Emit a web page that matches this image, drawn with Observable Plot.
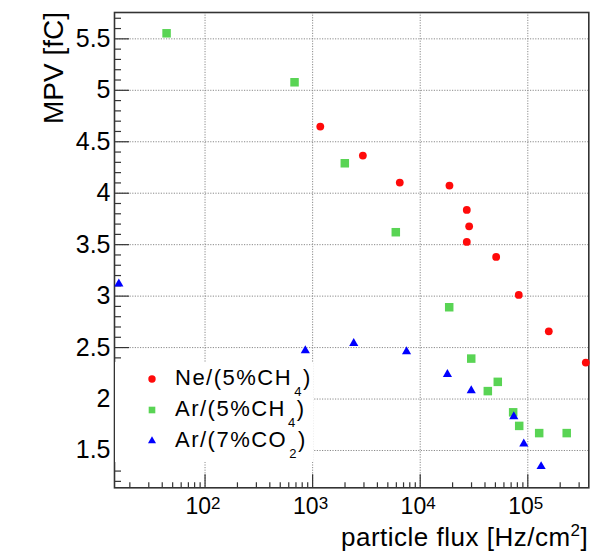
<!DOCTYPE html>
<html>
<head>
<meta charset="utf-8">
<script src="https://cdn.jsdelivr.net/npm/d3@7"></script>
<script src="https://cdn.jsdelivr.net/npm/@observablehq/plot@0.6"></script>
<style>
  html, body { margin: 0; padding: 0; background: #fff; }
  svg { display: block; }
</style>
</head>
<body>
<div id="chart"></div>
<script>
// Most probable value of the collected charge vs particle flux, per gas mixture
const seriesNames = ["Ne/(5%CH4)", "Ar/(5%CH4)", "Ar/(7%CO2)"];

const neFlux = [1178, 2931, 6457, 18700, 27100, 28500, 27100, 50800, 82400, 156700, 346000];
const neMpv  = [4.648, 4.366, 4.103, 4.074, 3.838, 3.678, 3.527, 3.381, 3.012, 2.658, 2.354];

const arCh4Flux = [43.9, 679, 1991, 5930, 18600, 29800, 52600, 42500, 73100, 83200, 127600, 230000];
const arCh4Mpv  = [5.554, 5.078, 4.291, 3.621, 2.892, 2.393, 2.167, 2.077, 1.871, 1.739, 1.669, 1.669];

const arCo2Flux = [15.8, 855, 2410, 7460, 17900, 29800, 74100, 91800, 133000];
const arCo2Mpv  = [3.119, 2.471, 2.542, 2.461, 2.240, 2.082, 1.829, 1.564, 1.345];

// axis ticks
const xMajor = [1e2, 1e3, 1e4, 1e5];
const xExponents = ["2", "3", "4", "5"];
const yMajor = [1.5, 2, 2.5, 3, 3.5, 4, 4.5, 5, 5.5];
const yLabels = ["1.5", "2", "2.5", "3", "3.5", "4", "4.5", "5", "5.5"];

const xDomain = [14.4, 369000];
const yDomain = [1.1375, 5.756];

const xMinor = [];
for (const decade of [10, 100, 1000, 10000, 100000]) {
  for (let m = 2; m <= 9; m++) {
    const v = m * decade;
    if (v > xDomain[0] && v < xDomain[1]) xMinor.push(v);
  }
}
const yMinor = d3.range(12, 58)
  .filter(k => k % 5 !== 0)
  .map(k => k / 10)
  .filter(v => v > yDomain[0] && v < yDomain[1]);

const colors = { ne: "#ff0a0a", arCh4: "#59d454", arCo2: "#0000ff" };

const toRows = (xs, ys) => xs.map((x, i) => ({ flux: x, mpv: ys[i] }));
const ne = toRows(neFlux, neMpv);
const arCh4 = toRows(arCh4Flux, arCh4Mpv);
const arCo2 = toRows(arCo2Flux, arCo2Mpv);

const font = "'Liberation Sans', Arial, Helvetica, sans-serif";
const axisInk = "#333";

const W = 609, H = 560;
const margin = { left: 114, right: 20.7, top: 12, bottom: 72.7 };
const innerW = W - margin.left - margin.right;
const innerH = H - margin.top - margin.bottom;

// ticks point inward from the bottom and left frame edges
const tickX = (values, len) => Plot.ruleX(values, { x: d => d, insetTop: innerH - len, stroke: axisInk, strokeWidth: 1.2 });
const tickY = (values, len) => Plot.ruleY(values, { y: d => d, insetRight: innerW - len, stroke: axisInk, strokeWidth: 1.2 });

const chart = Plot.plot({
  width: W,
  height: H,
  marginLeft: margin.left,
  marginRight: margin.right,
  marginTop: margin.top,
  marginBottom: margin.bottom,
  style: { fontFamily: font, background: "#fff" },
  x: { type: "log", domain: xDomain, axis: null },
  y: { domain: yDomain, axis: null },
  marks: [
    // dotted grid at the major ticks
    Plot.gridX(xMajor, { stroke: "#8a8a8a", strokeOpacity: 1, strokeWidth: 1, strokeDasharray: "1.2,1.4" }),
    Plot.gridY(yMajor, { stroke: "#8a8a8a", strokeOpacity: 1, strokeWidth: 1, strokeDasharray: "1.2,1.4" }),

    tickX(xMajor, 13),
    tickX(xMinor, 5),
    tickY(yMajor, 15),
    tickY(yMinor, 7),

    // y tick labels
    Plot.text(yMajor, {
      y: d => d, frameAnchor: "left", text: (d, i) => yLabels[i],
      textAnchor: "end", dx: -4, fontSize: 25, fill: "#000"
    }),
    // x tick labels: 10 with a raised exponent
    Plot.text(xMajor, {
      x: d => d, frameAnchor: "bottom", text: () => "10",
      textAnchor: "end", dx: 6, dy: 26, fontSize: 23, fill: "#000"
    }),
    Plot.text(xMajor, {
      x: d => d, frameAnchor: "bottom", text: (d, i) => xExponents[i],
      textAnchor: "start", dx: 6, dy: 21, fontSize: 17, fill: "#000"
    }),

    Plot.frame({ stroke: axisInk, strokeWidth: 1.6 }),

    // data
    Plot.dot(arCh4, { x: "flux", y: "mpv", symbol: "square", r: 4.8, fill: colors.arCh4, stroke: "none" }),
    Plot.dot(ne, { x: "flux", y: "mpv", symbol: "circle", r: 3.9, fill: colors.ne, stroke: "none" }),
    Plot.dot(arCo2, { x: "flux", y: "mpv", symbol: "triangle", r: 3.4, fill: colors.arCo2, stroke: "none" })
  ]
});

const svg = d3.select(chart);

// axis titles
const xTitle = svg.append("text")
  .attr("x", 588.3).attr("y", 546)
  .attr("text-anchor", "end")
  .attr("font-family", font).attr("font-size", 26)
  .attr("letter-spacing", 0.5)
  .attr("fill", "#000");
xTitle.append("tspan").text("particle flux [Hz/cm");
xTitle.append("tspan").attr("font-size", 17).attr("dy", -10).text("2");
xTitle.append("tspan").attr("dy", 10).text("]");

svg.append("text")
  .attr("transform", "translate(63.3,12) rotate(-90)")
  .attr("text-anchor", "end")
  .attr("font-family", font).attr("font-size", 28)
  .attr("fill", "#000")
  .text("MPV [fC]");

// legend
const legend = svg.append("g");
legend.append("rect")
  .attr("x", 115).attr("y", 362).attr("width", 198).attr("height", 100)
  .attr("fill", "#fff");

const legendItems = [
  { label: "Ne/(5%CH", sub: "4", color: colors.ne, symbol: d3.symbolCircle, size: Math.PI * 3.7 * 3.7 },
  { label: "Ar/(5%CH", sub: "4", color: colors.arCh4, symbol: d3.symbolSquare, size: 44 },
  { label: "Ar/(7%CO", sub: "2", color: colors.arCo2, symbol: d3.symbolTriangle, size: 28 }
];
legendItems.forEach((item, i) => {
  const baseline = 385 + i * 31;
  legend.append("path")
    .attr("transform", `translate(152,${baseline - 6})`)
    .attr("d", d3.symbol(item.symbol, item.size)())
    .attr("fill", item.color);
  const t = legend.append("text")
    .attr("x", 175).attr("y", baseline)
    .attr("text-anchor", "start")
    .attr("font-family", font).attr("font-size", 22)
    .attr("letter-spacing", 1.5)
    .attr("fill", "#000");
  t.append("tspan").text(item.label);
  t.append("tspan").attr("font-size", 13).attr("dx", 2).attr("dy", 11).text(item.sub);
  t.append("tspan").attr("dy", -11).text(")");
});

document.getElementById("chart").appendChild(chart);
</script>
</body>
</html>
